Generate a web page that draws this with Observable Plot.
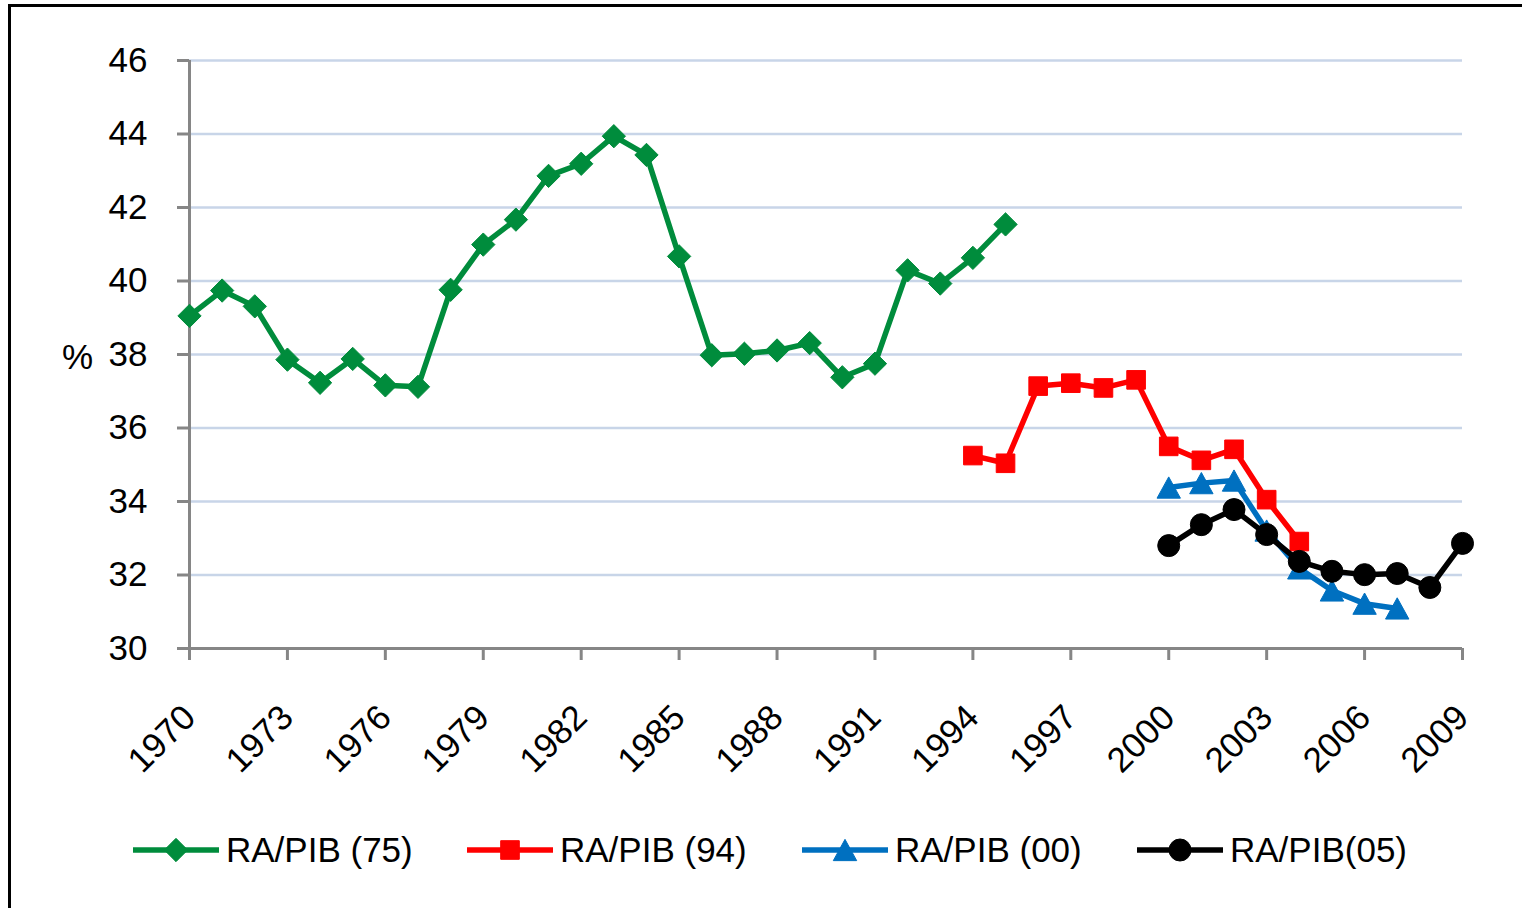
<!DOCTYPE html>
<html>
<head>
<meta charset="utf-8">
<script src="https://cdn.jsdelivr.net/npm/d3@7"></script>
<script src="https://cdn.jsdelivr.net/npm/@observablehq/plot@0.6"></script>
<style>
  html, body { margin: 0; padding: 0; background: #fff; overflow: hidden; width: 1522px; height: 908px; }
  #frame { position: absolute; left: 8px; top: 4px; width: 1600px; height: 1000px; border: 3px solid #000; box-sizing: border-box; }
  #chart { position: absolute; left: 0; top: 0; }
  #legend { position: absolute; left: 0; top: 830px; width: 1522px; height: 40px; font-family: "Liberation Sans", Arial, sans-serif; font-size: 35px; color: #000; }
  .item { position: absolute; top: 0; height: 40px; display: flex; align-items: center; white-space: pre; }
  .item svg { margin-right: 7px; }
</style>
</head>
<body>
<div id="frame"></div>
<div id="chart"></div>
<div id="legend"></div>
<script>
// ---- Data ----
const seriesNames = ["RA/PIB (75)", "RA/PIB (94)", "RA/PIB (00)", "RA/PIB(05)"];
const seriesColors = ["#008C3C", "#FF0000", "#0070C0", "#000000"];

const years75 = [1970,1971,1972,1973,1974,1975,1976,1977,1978,1979,1980,1981,1982,1983,1984,1985,1986,1987,1988,1989,1990,1991,1992,1993,1994,1995];
const values75 = [39.05,39.74,39.31,37.86,37.23,37.88,37.16,37.12,39.76,40.99,41.67,42.86,43.19,43.94,43.43,40.67,37.98,38.02,38.11,38.31,37.38,37.75,40.29,39.93,40.63,41.54];

const years94 = [1994,1995,1996,1997,1998,1999,2000,2001,2002,2003,2004];
const values94 = [35.25,35.04,37.14,37.22,37.09,37.31,35.50,35.12,35.42,34.05,32.91];

const years00 = [2000,2001,2002,2003,2004,2005,2006,2007];
const values00 = [34.38,34.50,34.57,33.21,32.18,31.58,31.22,31.09];

const years05 = [2000,2001,2002,2003,2004,2005,2006,2007,2008,2009];
const values05 = [32.80,33.37,33.78,33.10,32.37,32.10,32.01,32.04,31.66,32.86];

const xTicks = [1970,1973,1976,1979,1982,1985,1988,1991,1994,1997,2000,2003,2006,2009];
const yTicks = [30,32,34,36,38,40,42,44,46];
const yLabel = "%";

// ---- Build table ----
const allYears = [years75, years94, years00, years05];
const allValues = [values75, values94, values00, values05];
const rows = [];
allYears.forEach((ys, s) => ys.forEach((yr, i) => rows.push({series: seriesNames[s], year: yr, value: allValues[s][i]})));

// triangle centered on its bounding box (Excel style)
const triBox = {
  draw(ctx, size) {
    const h = Math.sqrt(size) * 1.2, w = h * 1.1;
    ctx.moveTo(0, -h / 2);
    ctx.lineTo(w / 2, h / 2);
    ctx.lineTo(-w / 2, h / 2);
    ctx.closePath();
  }
};
const symbols = ["diamond2", "square", triBox, "circle"];
const radii = [10.5, 10.5, 10, 11];

const gridColor = "#C8D5E8";
const axisColor = "#868686";

const marks = [
  Plot.gridY(yTicks, {stroke: gridColor, strokeOpacity: 1, strokeWidth: 2.5}),
  Plot.ruleX([xTicks[0]], {stroke: axisColor, strokeWidth: 3}),
  Plot.ruleY([yTicks[0]], {stroke: axisColor, strokeWidth: 3}),
  Plot.axisY(yTicks, {tickSize: 12, tickPadding: 30, stroke: axisColor, strokeWidth: 3, fill: "#000", fontSize: 35, label: null}),
  Plot.axisX(xTicks, {tickSize: 12, tickFormat: () => "", stroke: axisColor, strokeWidth: 3, label: null}),
  Plot.text(xTicks, {x: d => d, frameAnchor: "bottom", text: d => String(d), rotate: -45, textAnchor: "end", lineAnchor: "middle", dx: 0, dy: 63, fontSize: 35, fill: "#000"}),
  Plot.text([yLabel], {frameAnchor: "left", text: d => d, dx: -112, dy: 3, textAnchor: "middle", fontSize: 35, fill: "#000"})
];
seriesNames.forEach((name, s) => {
  const data = rows.filter(r => r.series === name);
  marks.push(Plot.line(data, {x: "year", y: "value", stroke: seriesColors[s], strokeWidth: 5.5, strokeLinejoin: "round"}));
  marks.push(Plot.dot(data, {x: "year", y: "value", symbol: () => symbols[s], r: radii[s], fill: seriesColors[s], stroke: seriesColors[s], strokeWidth: 1}));
});

const chart = Plot.plot({
  width: 1522,
  height: 800,
  marginLeft: 189,
  marginRight: 60,
  marginTop: 60,
  marginBottom: 152,
  style: {fontFamily: "Liberation Sans, Arial, sans-serif", fontSize: "35px", background: "transparent", overflow: "visible"},
  x: {domain: [xTicks[0], xTicks[xTicks.length - 1]], axis: null},
  y: {domain: [yTicks[0], yTicks[yTicks.length - 1]], axis: null},
  symbol: {type: "identity"},
  marks
});
document.getElementById("chart").appendChild(chart);

// ---- Legend ----
const legend = document.getElementById("legend");
const legendLefts = [133, 467, 802, 1137];
seriesNames.forEach((name, s) => {
  const item = document.createElement("div");
  item.className = "item";
  item.style.left = legendLefts[s] + "px";
  const svg = d3.create("svg").attr("width", 86).attr("height", 30);
  svg.append("line").attr("x1", 0).attr("x2", 86).attr("y1", 15).attr("y2", 15)
    .attr("stroke", seriesColors[s]).attr("stroke-width", 5.5);
  const symType = s === 0 ? d3.symbolDiamond2 : s === 1 ? d3.symbolSquare : s === 2 ? triBox : d3.symbolCircle;
  svg.append("path").attr("transform", "translate(43,15)")
    .attr("d", d3.symbol(symType, Math.PI * radii[s] * radii[s])())
    .attr("fill", seriesColors[s]).attr("stroke", seriesColors[s]).attr("stroke-width", 1);
  item.appendChild(svg.node());
  const span = document.createElement("span");
  span.textContent = name;
  item.appendChild(span);
  legend.appendChild(item);
});
</script>
</body>
</html>
